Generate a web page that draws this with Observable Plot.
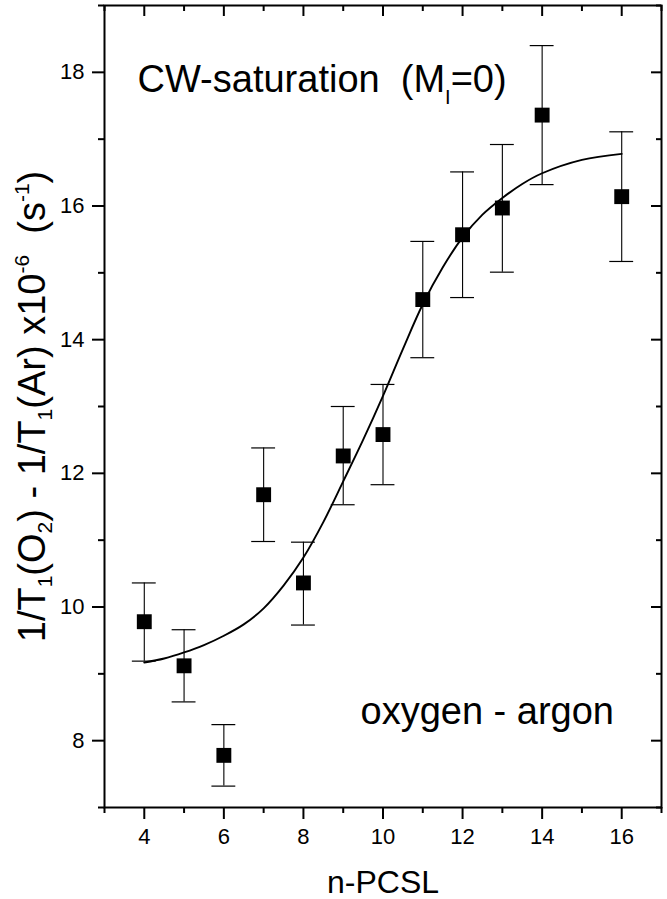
<!DOCTYPE html>
<html><head><meta charset="utf-8">
<script src="https://cdn.jsdelivr.net/npm/d3@7"></script>
<script src="https://cdn.jsdelivr.net/npm/@observablehq/plot@0.6"></script>
<style>
html,body{margin:0;padding:0;background:#fff;}
#chart svg{display:block;}
</style></head><body><div id="chart"></div>
<script>
// ---- data ----
const nPCSL     = [4, 5, 6, 7, 8, 9, 10, 11, 12, 13, 14, 16];
const rateDiff  = [9.78, 9.12, 7.78, 11.68, 10.36, 12.26, 12.58, 14.60, 15.57, 15.97, 17.36, 16.14];
const rateLow   = [9.19, 8.58, 7.32, 10.98, 9.73, 11.53, 11.83, 13.73, 14.63, 15.01, 16.32, 15.17];
const rateHigh  = [10.36, 9.66, 8.24, 12.38, 10.97, 13.00, 13.33, 15.47, 16.51, 16.92, 18.40, 17.11];

const fitN    = [4, 4.5, 5, 5.5, 6, 6.5, 7, 7.5, 8, 8.5, 9, 9.5, 10, 10.5, 11, 11.5, 12, 12.5, 13, 13.5, 14, 15, 16];
const fitRate = [9.17, 9.23, 9.32, 9.43, 9.57, 9.74, 9.98, 10.32, 10.74, 11.27, 11.88, 12.5, 13.16, 13.86, 14.53, 15.08, 15.53, 15.87, 16.12, 16.33, 16.49, 16.69, 16.78];

const xMajorTicks = [4, 6, 8, 10, 12, 14, 16];
const xMinorTicks = [3, 5, 7, 9, 11, 13, 15, 17];
const yMajorTicks = [8, 10, 12, 14, 16, 18];
const yMinorTicks = [7, 9, 11, 13, 15, 17, 19];

const xLabel = "n-PCSL";
const yLabelParts = [["1/T",0],["1",1],["(O",0],["2",1],[") - 1/T",0],["1",1],["(Ar) x10",0],["-6",2],["  (s",0],["-1",2],[")",0]];
const titleParts  = [["CW-saturation  (M",0],["I",1],["=0)",0]];
const gasLabel = "oxygen - argon";

// ---- build ----
const FONT = "'Liberation Sans', Arial, Helvetica, sans-serif";
const W = 667, H = 899, ML = 104, MR = 6, MT = 5, MB = 92;
const innerW = W - ML - MR, innerH = H - MT - MB;
const capHalf = 0.3;

const points = nPCSL.map((n, i) => ({n, v: rateDiff[i], lo: rateLow[i], hi: rateHigh[i]}));
const fit = fitN.map((n, i) => ({n, v: fitRate[i]}));
const plain = parts => parts.map(p => p[0]).join("");

const chart = Plot.plot({
  width: W, height: H,
  marginLeft: ML, marginRight: MR, marginTop: MT, marginBottom: MB,
  style: {fontFamily: FONT, fontSize: "22px", background: "white", color: "black"},
  x: {domain: [3, 17]},
  y: {domain: [7, 19]},
  marks: [
    Plot.ruleX(points, {x: "n", y1: "lo", y2: "hi", stroke: "black", strokeWidth: 1.1}),
    Plot.ruleY(points, {y: "lo", x1: d => d.n - capHalf, x2: d => d.n + capHalf, stroke: "black", strokeWidth: 1.2}),
    Plot.ruleY(points, {y: "hi", x1: d => d.n - capHalf, x2: d => d.n + capHalf, stroke: "black", strokeWidth: 1.2}),
    Plot.line(fit, {x: "n", y: "v", curve: "catmull-rom", stroke: "black", strokeWidth: 1.9}),
    Plot.dot(points, {x: "n", y: "v", symbol: "square", r: 8.4, fill: "black", stroke: "none"}),
    Plot.frame({stroke: "black", strokeWidth: 2}),
    Plot.axisX(xMajorTicks, {tickSize: 12, tickPadding: 9, fontSize: 22, strokeWidth: 2, tickFormat: d3.format("d"), label: null}),
    Plot.tickX(xMinorTicks, {x: d => d, insetTop: innerH, insetBottom: -6, strokeWidth: 2}),
    Plot.tickX(xMajorTicks, {x: d => d, insetBottom: innerH - 11, strokeWidth: 2}),
    Plot.tickX(xMinorTicks, {x: d => d, insetBottom: innerH - 6, strokeWidth: 2}),
    Plot.axisY(yMajorTicks, {tickSize: 12, tickPadding: 8, fontSize: 22, strokeWidth: 2, tickFormat: d3.format("d"), label: null}),
    Plot.tickY(yMinorTicks, {y: d => d, insetRight: innerW, insetLeft: -6, strokeWidth: 2}),
    Plot.tickY(yMajorTicks, {y: d => d, insetLeft: innerW - 10, strokeWidth: 2}),
    Plot.tickY(yMinorTicks, {y: d => d, insetLeft: innerW - 5, strokeWidth: 2}),
    Plot.text([plain(titleParts)], {text: d => d, frameAnchor: "top-left", dx: 33, dy: 86, lineAnchor: "bottom", textAnchor: "start", fontSize: 38, fill: "black"}),
    Plot.text([gasLabel], {text: d => d, frameAnchor: "top-left", dx: 256, dy: 718, lineAnchor: "bottom", textAnchor: "start", fontSize: 38, fill: "black"}),
    Plot.text([xLabel], {text: d => d, frameAnchor: "bottom", dy: 85, lineAnchor: "bottom", textAnchor: "middle", fontSize: 32, fill: "black"}),
    Plot.text([plain(yLabelParts)], {text: d => d, frameAnchor: "left", rotate: -90, dx: -60, dy: 0, lineAnchor: "bottom", textAnchor: "middle", fontSize: 38, fill: "black"})
  ]
});

function richify(svg, parts, subSize, subShift, supShift) {
  const target = plain(parts);
  const el = Array.from(svg.querySelectorAll("text")).find(t => t.textContent === target);
  if (!el) return;
  el.textContent = "";
  el.style.whiteSpace = "pre";
  let cur = 0;
  for (const [t, kind] of parts) {
    const want = kind === 1 ? subShift : kind === 2 ? -supShift : 0;
    const ts = document.createElementNS("http://www.w3.org/2000/svg", "tspan");
    ts.textContent = t;
    if (want !== cur) ts.setAttribute("dy", want - cur);
    if (kind) ts.setAttribute("font-size", subSize);
    el.appendChild(ts);
    cur = want;
  }
}
richify(chart, titleParts, 20, 12, 0);
richify(chart, yLabelParts, 21, 7, 16);

chart.querySelectorAll("g[aria-label$='tick label']").forEach(g => g.setAttribute("font-size", 22));

document.getElementById("chart").appendChild(chart);
</script></body></html>
